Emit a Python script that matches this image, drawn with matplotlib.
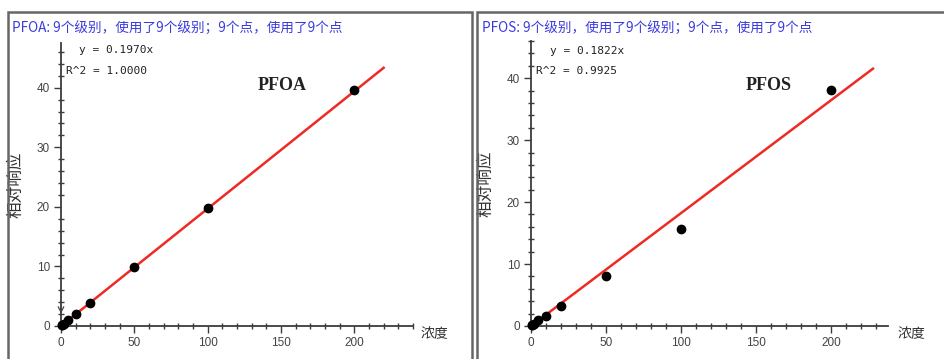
import matplotlib.pyplot as plt
from matplotlib.patches import Rectangle
from matplotlib.ticker import MultipleLocator

plt.rcParams['font.family'] = ['Noto Sans CJK SC', 'DejaVu Sans']

W, H = 945, 359

# calibration levels and responses
pfoa_conc = [0.5, 1, 2, 5, 10, 20, 50, 100, 200]
pfoa_resp = [0.1, 0.2, 0.4, 1.0, 2.0, 3.9, 9.9, 19.8, 39.6]
pfoa_slope = 0.1970
pfoa_r2 = 1.0000

pfos_conc = [0.5, 1, 2, 5, 10, 20, 50, 100, 200]
pfos_resp = [0.1, 0.2, 0.4, 1.0, 1.6, 3.3, 8.1, 15.6, 38.1]
pfos_slope = 0.1822
pfos_r2 = 0.9925

info = "9个级别，使用了9个级别；9个点，使用了9个点"


def fx(x):
    return x / W


def fy(y):
    return 1 - y / H


fig = plt.figure(figsize=(W / 100, H / 100), dpi=100)
fig.patch.set_facecolor('white')

# panel frames
for x0, x1 in [(8, 472), (477, 960)]:
    fig.add_artist(Rectangle((fx(x0), fy(400)), fx(x1 - x0), (400 - 12) / H,
                             transform=fig.transFigure, fill=False,
                             edgecolor='#666666', linewidth=1.8))


def panel(left, xw, xmax, ymax, top, conc, resp, slope, r2, name, fit_end,
          eq_pos, r2_pos, name_pos, title_x, axis_lbl_x, conc_lbl_x):
    ax = fig.add_axes([fx(left), 33 / H, fx(xw), (326 - top) / H])
    ax.set_xlim(0, xmax)
    ax.set_ylim(0, ymax)
    for s in ['top', 'right']:
        ax.spines[s].set_visible(False)
    for s in ['left', 'bottom']:
        ax.spines[s].set_color('#3c3c3c')
        ax.spines[s].set_linewidth(1.3)
    ax.xaxis.set_major_locator(MultipleLocator(50))
    ax.xaxis.set_minor_locator(MultipleLocator(10))
    ax.yaxis.set_major_locator(MultipleLocator(10))
    ax.yaxis.set_minor_locator(MultipleLocator(2))
    ax.tick_params(which='major', direction='out', length=5, width=1,
                   color='#3c3c3c', labelsize=8.5, labelcolor='#444444', pad=3,
                   labelfontfamily='Liberation Sans')
    ax.tick_params(which='minor', direction='inout', length=4, width=1,
                   color='#3c3c3c')

    ax.plot([0, fit_end], [0, slope * fit_end], color='#ee2a24', lw=1.8,
            zorder=2)
    ax.plot(conc, resp, 'o', color='black', ms=6, zorder=3, clip_on=False)

    ax.set_ylabel('相对响应', fontsize=12, color='#333333')
    ax.yaxis.set_label_coords(-(left - axis_lbl_x) / xw, 0.5)

    fig.text(fx(conc_lbl_x), fy(334), '浓度', fontsize=10, color='#333333',
             va='center', ha='left')
    fig.text(fx(eq_pos[0]), fy(eq_pos[1]), f'y = {slope:.4f}x',
             family='DejaVu Sans Mono', fontsize=8, color='#222222',
             va='center')
    fig.text(fx(r2_pos[0]), fy(r2_pos[1]), f'R^2 = {r2:.4f}',
             family='DejaVu Sans Mono', fontsize=8, color='#222222',
             va='center')
    fig.text(fx(name_pos[0]), fy(name_pos[1]), name, family='Liberation Serif',
             fontsize=13, fontweight='bold', color='#222222',
             ha='center', va='center')
    fig.text(fx(title_x), fy(28), f'{name}: {info}', fontsize=9.8,
             color='#3b3bdc', va='center', ha='left')
    return ax


ax1 = panel(61, 352, 240, 47.5, 43, pfoa_conc, pfoa_resp, pfoa_slope,
            pfoa_r2, 'PFOA', 220, (79, 50), (66, 71), (282, 86), 12, 24, 421)
# marker arrow above the origin
ax1.annotate('', xy=(0, 1.6), xytext=(0, 4.6),
             arrowprops=dict(arrowstyle='->', color='#444444', lw=0.9))

ax2 = panel(531, 357, 238, 46, 41, pfos_conc, pfos_resp, pfos_slope,
            pfos_r2, 'PFOS', 228, (550, 51), (536, 71), (769, 85), 482, 494,
            898)

fig.savefig('out.png', dpi=100)
